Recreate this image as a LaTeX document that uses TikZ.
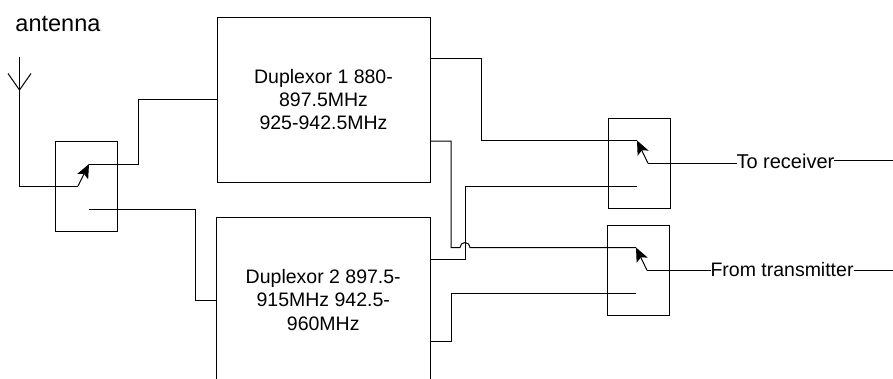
\documentclass[tikz,border=0pt]{standalone}
\usepackage{fontspec}
\setmainfont{Liberation Sans}
\usetikzlibrary{arrows.meta}
\tikzset{
  boxn/.style={draw=black,line width=1pt,minimum width=#1,inner sep=0pt,outer sep=0pt},
  txt/.style={inner sep=0pt,outer sep=0pt,align=center,font=\fontsize{19.5}{23.3}\selectfont},
  wire/.style={draw=black,line width=1pt,line join=miter},
  tip/.style={wire,-{Stealth[length=14pt,width=12pt,inset=3pt]}}
}
\begin{document}
\begin{tikzpicture}[x=1pt,y=-1pt]
\clip (0,0) rectangle (893,378);
\node[boxn=213,minimum height=165,txt] (d1) at (323.5,99.5) {Duplexor 1 880-\\897.5MHz\\925-942.5MHz};
\node[boxn=213.5,minimum height=166,txt] (d2) at (323.25,300) {Duplexor 2 897.5-\\915MHz 942.5-\\960MHz};
\node[boxn=62,minimum height=90] (s1) at (86.5,186) {};
\node[boxn=62,minimum height=90] (s2) at (639.7,163) {};
\node[boxn=62,minimum height=90] (s3) at (638.2,270) {};
\node[txt,anchor=west,font=\fontsize{23.5}{26}\selectfont] (ant) at (15.5,24) {antenna};
\node[txt,anchor=west,font=\fontsize{20}{24}\selectfont] (rx) at (736.5,161) {To receiver};
\node[txt,anchor=west] (tx) at (710.5,269.5) {From transmitter};
\coordinate (anttop) at (19.5,56.5);
\coordinate (antbase) at (19.5,90);
\coordinate (antl) at (8,73.5);
\coordinate (antr) at (31,73.5);
\coordinate (t1tail) at (78,186);
\coordinate (t1tip) at (89,164);
\coordinate (c1) at (89,209);
\coordinate (d1a) at (430,58);
\coordinate (d1b) at (430,141);
\coordinate (d2a) at (430,259);
\coordinate (d2b) at (430,341.5);
\coordinate (t2tip) at (637,140.5);
\coordinate (t2tail) at (648,163.3);
\coordinate (c2) at (637,186);
\coordinate (t3tip) at (636,247.5);
\coordinate (t3tail) at (647,270.3);
\coordinate (c3) at (636,293);
\coordinate (rxend) at (893,160.7);
\coordinate (txend) at (893,270.3);
\draw[wire] (antl) -- (antbase) -- (antr);
\draw[wire] (anttop) -- (19.5,186) -- (t1tail);
\draw[tip] (t1tail) -- (t1tip);
\draw[wire] (t1tip) -- (138,164) -- (138,99.5) -- (d1.west);
\draw[wire] (c1) -- (195,209) -- (195,300) -- (d2.west);
\draw[wire] (d1a) -- (481,58) -- (481,140.5) -- (t2tip);
\draw[wire] (d1b) -- (451,141) -- (451,247.5) -- (460,247.5) arc[start angle=180,end angle=360,radius=5] -- (t3tip);
\draw[wire] (d2a) -- (465,259) -- (465,186) -- (c2);
\draw[wire] (d2b) -- (451,341.5) -- (451,293) -- (c3);
\draw[tip] (t2tail) -- (t2tip);
\draw[tip] (t3tail) -- (t3tip);
\draw[wire] (t2tail) -- (rx.west |- t2tail);
\draw[wire] (t3tail) -- (tx.west |- t3tail);
\draw[wire] (rx.east |- rxend) -- (rxend);
\draw[wire] (tx.east |- txend) -- (txend);
\end{tikzpicture}
\end{document}
